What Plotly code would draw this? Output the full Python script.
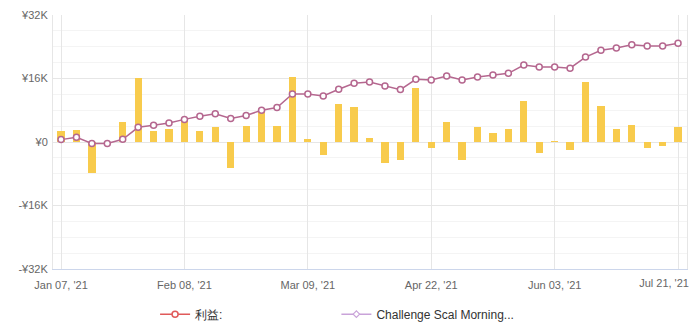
import plotly.graph_objects as go

# ---- data ----
tick_positions = [0, 8, 16, 24, 32, 40]
tick_labels = ["Jan 07, '21", "Feb 08, '21", "Mar 09, '21", "Apr 22, '21", "Jun 03, '21", "Jul 21, '21"]
period_index = list(range(41))
profit = [2800, 3000, -7800, 0, 5000, 16100, 2800, 3300, 5300, 2800,
          3700, -6500, 4000, 7700, 4000, 16500, 800, -3400, 9700, 8800,
          900, -5300, -4500, 13700, -1500, 5100, -4500, 3700, 2300, 3300,
          10300, -2700, 200, -2000, 15200, 9000, 3300, 4200, -1500, -900, 3800]
cumulative = [600, 1200, -350, -350, 700, 3700, 4200, 4800, 5700, 6500,
              7100, 5900, 6700, 8000, 8700, 12100, 12100, 11600, 13300, 14800,
              15100, 14100, 13200, 15800, 15600, 16600, 15600, 16400, 16900, 17300,
              19400, 18900, 18900, 18600, 21400, 23100, 23700, 24500, 24200, 24200, 24900]
y_tick_values = [-32000, -16000, 0, 16000, 32000]
y_tick_labels = ["-¥32K", "-¥16K", "¥0", "¥16K", "¥32K"]
legend_names = ["利益:", "Challenge Scal Morning..."]

BAR = "#f8cb4c"
LINE = "#b5678f"
FONT = "Liberation Sans, Arial, sans-serif"
X_RANGE = [-0.52, 40.58]

fig = go.Figure()
fig.add_trace(go.Bar(x=period_index, y=profit, marker=dict(color=BAR, line=dict(width=0)),
                     width=0.47, showlegend=False))
fig.add_trace(go.Scatter(x=period_index, y=cumulative, mode="lines+markers",
                         line=dict(color=LINE, width=1.5),
                         marker=dict(symbol="circle", size=6, color="white",
                                     line=dict(color=LINE, width=1.5)),
                         showlegend=False))
# legend-only entries
fig.add_trace(go.Scatter(x=[None], y=[None], mode="lines+markers", name=legend_names[0],
                         line=dict(color="#e05a5a", width=1.5),
                         marker=dict(symbol="circle", size=6, color="white",
                                     line=dict(color="#e05a5a", width=1.5)),
                         legend="legend"))
fig.add_trace(go.Scatter(x=[None], y=[None], mode="lines+markers", name=legend_names[1],
                         line=dict(color="#c9a3d9", width=1.5),
                         marker=dict(symbol="diamond", size=5, color="white",
                                     line=dict(color="#c9a3d9", width=1.2)),
                         legend="legend2"))
# invisible trace to carry the overlay axis for the last (edge-shifted) label
fig.add_trace(go.Scatter(x=[None], y=[None], xaxis="x2", showlegend=False, hoverinfo="skip"))

main_text = tick_labels[:-1] + [""]

fig.update_layout(
    width=692, height=333,
    margin=dict(l=53, r=5, t=15, b=64, autoexpand=False),
    paper_bgcolor="white", plot_bgcolor="white",
    font=dict(family=FONT, size=11, color="#666666"),
    bargap=0,
    legend=dict(x=0.161, y=0.1, xref="paper", yref="container", xanchor="left", yanchor="top",
                orientation="h", font=dict(size=12, color="#333333"),
                bgcolor="rgba(0,0,0,0)", itemwidth=30),
    legend2=dict(x=0.447, y=0.1, xref="paper", yref="container", xanchor="left", yanchor="top",
                 orientation="h", font=dict(size=12, color="#333333"),
                 bgcolor="rgba(0,0,0,0)", itemwidth=30),
    xaxis=dict(range=X_RANGE, tickmode="array", tickvals=tick_positions,
               ticktext=main_text, showgrid=True, gridcolor="#e6e6e6", gridwidth=1,
               showline=True, linecolor="#ccd6eb", linewidth=1, zeroline=False,
               ticks="", ticklabelstandoff=6, fixedrange=True),
    xaxis2=dict(range=X_RANGE, overlaying="x", side="bottom", tickmode="array",
                tickvals=tick_positions[-1:], ticktext=tick_labels[-1:],
                showgrid=False, showline=False, zeroline=False, ticks="",
                ticklabelstandoff=6, ticklabelshift=-14, fixedrange=True),
    yaxis=dict(range=[-32000, 32000], tickmode="array", tickvals=y_tick_values,
               ticktext=y_tick_labels, showgrid=True, gridcolor="#e6e6e6", gridwidth=1,
               minor=dict(dtick=4000, tick0=0, showgrid=True, gridcolor="#f4f4f4", gridwidth=1),
               zeroline=True, zerolinecolor="#e6e6e6", zerolinewidth=1,
               showline=True, linecolor="#e6e6e6", mirror=True,
               ticks="", ticklabelstandoff=2, fixedrange=True),
)

fig.write_html("out.html")
